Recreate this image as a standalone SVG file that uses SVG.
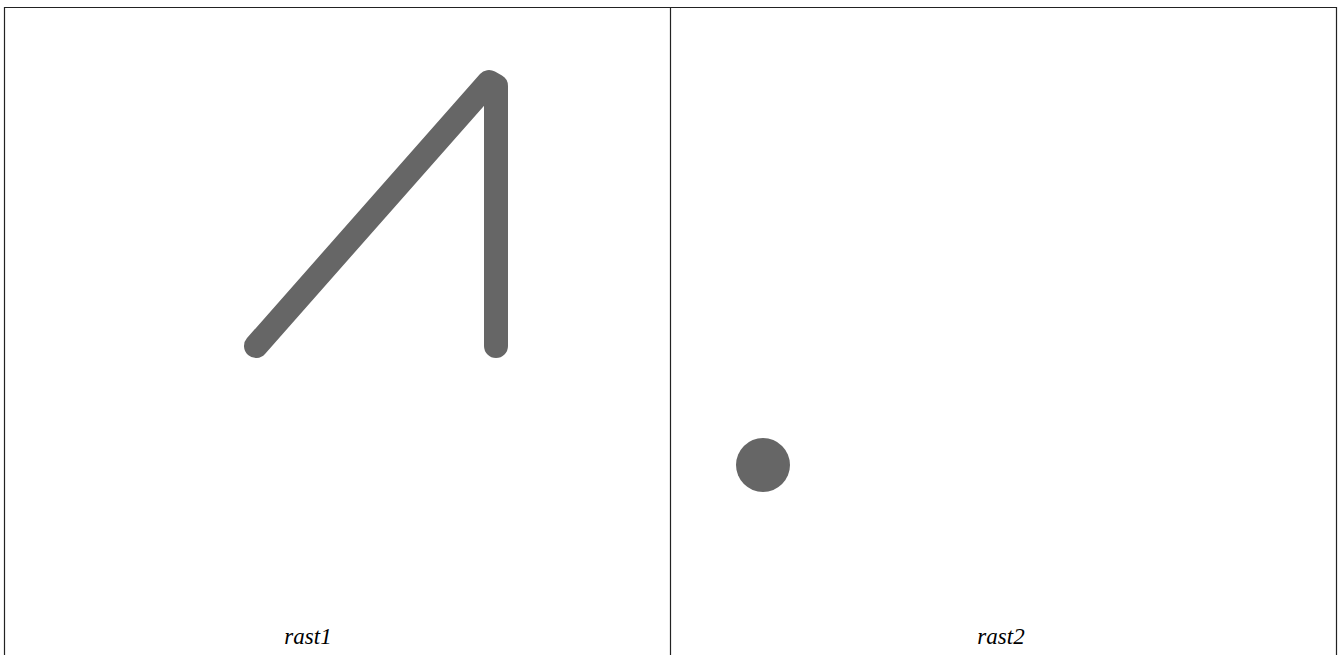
<svg xmlns="http://www.w3.org/2000/svg" width="1341" height="655" viewBox="0 0 1341 655">
<style>
.frame{fill:none;stroke:#222;stroke-width:1.2}
.ink{fill:none;stroke:#666;stroke-width:24;stroke-linecap:round;stroke-linejoin:round}
.lbl{font-family:"Liberation Serif",serif;font-style:italic;font-size:23px;fill:#000;text-anchor:middle}
</style>
<rect width="1341" height="655" fill="#fff"/>
<g id="frame">
<path class="frame" d="M4.5,655 V7.5 H1336.5 V655 M670.5,7.5 V655"/>
</g>
<g id="rast1">
<path class="ink" d="M256,346 L489,82 L496,86 L496,346"/>
<text class="lbl" x="308" y="644">rast1</text>
</g>
<g id="rast2">
<circle cx="763" cy="465" r="27" fill="#666"/>
<text class="lbl" x="1001" y="644">rast2</text>
</g>
<g id="connectors"></g>
</svg>
